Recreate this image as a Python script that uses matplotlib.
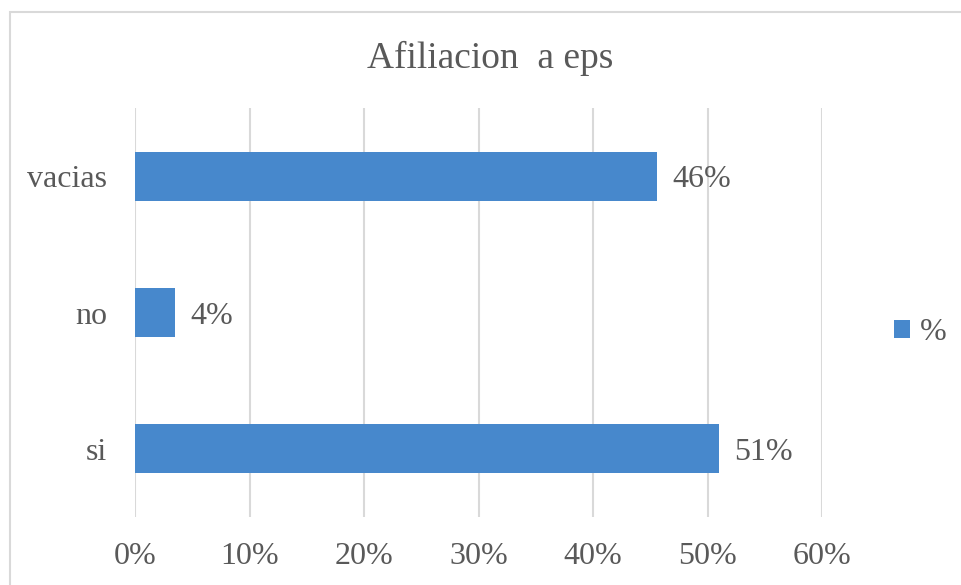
import matplotlib.pyplot as plt
from matplotlib.patches import Rectangle

# data
categories = ['si', 'no', 'vacias']
values = [51.0, 3.5, 45.6]
labels = ['51%', '4%', '46%']
xticks = [0, 10, 20, 30, 40, 50, 60]
series_name = '%'

plt.rcParams['font.family'] = ['Liberation Serif', 'DejaVu Serif']
txt = '#595959'
blue = '#4788CC'

fig = plt.figure(figsize=(9.61, 5.85), dpi=100)
# chart frame (cropped at right and bottom)
fig.patches.append(Rectangle((10/961, -0.1), 1.0, 1 - 12/585 + 0.1,
                             transform=fig.transFigure, fill=False,
                             edgecolor='#D9D9D9', linewidth=1.5))

ax = fig.add_axes([135/961, 1 - 517/585, (822 - 135)/961, (517 - 108)/585])
bars = ax.barh(categories, values, height=0.36, color=blue, label=series_name, zorder=3)

for b, lab in zip(bars, labels):
    ax.text(b.get_width() + 1.3, b.get_y() + b.get_height()/2, lab,
            va='center_baseline', ha='left', fontsize=23, color=txt)

ax.set_xlim(0, 60)
ax.set_ylim(-0.5, 2.5)
ax.set_xticks(xticks)
ax.set_xticklabels([f'{t}%' for t in xticks])
ax.grid(axis='x', color='#D9D9D9', linewidth=1.5, zorder=0)
ax.tick_params(length=0, labelsize=23, colors=txt, pad=18)
ax.tick_params(axis='y', pad=20)
for s in ax.spines.values():
    s.set_visible(False)

fig.text(0.51, 1 - 58/585, 'Afiliacion  a eps', ha='center', va='center',
         fontsize=27, color=txt)

fig.legend(loc='center left', bbox_to_anchor=(894/961, 1 - 333/585), frameon=False,
           borderaxespad=0, borderpad=0,
           fontsize=23, handlelength=0.5, handleheight=0.5, handletextpad=0.3,
           labelcolor=txt)

fig.savefig('out.png', dpi=100, facecolor='white')
